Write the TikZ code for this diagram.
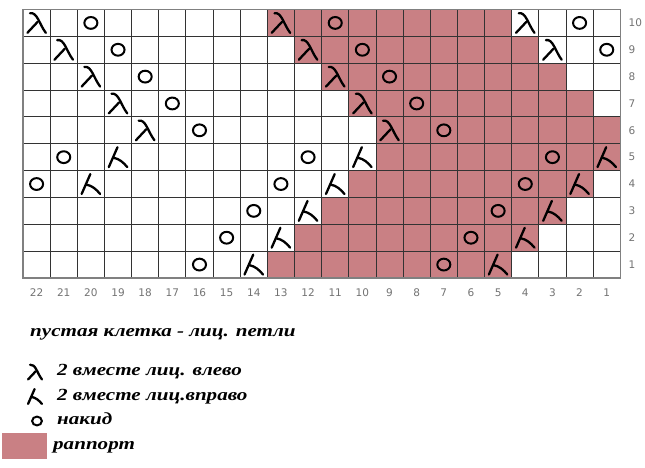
\documentclass[tikz,border=0pt]{standalone}
\usepackage{fontspec}
\setmainfont{Liberation Serif}
\newfontfamily\numfont{DejaVu Sans}
\newfontfamily\legendfont[FakeStretch=1.24]{Liberation Serif}
\definecolor{rapport}{RGB}{201,128,132}
\tikzset{
  cellline/.style={black!80, line width=0.9pt},
  stitch/.style={line width=2.3pt, line cap=round, line join=round},
  numlabel/.style={font=\numfont\fontsize{10.5}{11}\selectfont, text=black!55, inner sep=0pt},
  legendtext/.style={anchor=base west, inner sep=0pt, font=\legendfont\bfseries\itshape\fontsize{17}{17}\selectfont},
  pics/kleft/.style={code={
    \draw[stitch] (-0.24,-0.36) .. controls (0.02,-0.42) and (0.1,0.05) .. (0.34,0.37);
    \draw[stitch] (0.04,-0.04) -- (-0.34,0.37);
  }},
  pics/kright/.style={code={
    \draw[stitch] (-0.02,-0.37) -- (-0.34,0.37);
    \draw[stitch] (-0.17,0.02) .. controls (0.05,0.06) and (0.2,0.2) .. (0.34,0.37);
  }},
  pics/yo/.style={code={
    \draw[line width=2pt] (0,0) ellipse [x radius=0.24, y radius=0.22];
  }}
}
\begin{document}
\begin{tikzpicture}[x=1pt, y=-1pt]
\useasboundingbox[fill=white] (0,0) rectangle (645,468);
\begin{scope}[shift={(23,9.5)}, x=27.15pt, y=-26.85pt]
\foreach \r in {6,...,10}
  \fill[rapport] ({19-\r},{10-\r}) rectangle ({28-\r},{11-\r});
\foreach \r in {1,...,5}
  \fill[rapport] ({8+\r},{10-\r}) rectangle ({17+\r},{11-\r});
\foreach \i in {1,...,21}
  \draw[cellline] (\i,0) -- (\i,10);
\foreach \j in {1,...,9}
  \draw[cellline] (0,\j) -- (22,\j);
\draw[gray, line width=1.2pt] (0,0) rectangle (22,10);
\foreach \r in {6,...,10} {
  \pic at ({10.5-\r},{10.5-\r}) {kleft};
  \pic at ({19.5-\r},{10.5-\r}) {kleft};
  \pic at ({12.5-\r},{10.5-\r}) {yo};
  \pic at ({21.5-\r},{10.5-\r}) {yo};
}
\pic at (18.5,0.5) {kleft};
\pic at (20.5,0.5) {yo};
\pic at (19.5,1.5) {kleft};
\pic at (21.5,1.5) {yo};
\foreach \r in {4,5} {
  \pic at ({\r-3.5},{10.5-\r}) {yo};
  \pic at ({\r-1.5},{10.5-\r}) {kright};
}
\foreach \r in {1,...,5} {
  \pic at ({5.5+\r},{10.5-\r}) {yo};
  \pic at ({7.5+\r},{10.5-\r}) {kright};
  \pic at ({14.5+\r},{10.5-\r}) {yo};
  \pic at ({16.5+\r},{10.5-\r}) {kright};
}
\foreach \c in {1,...,22}
  \node[numlabel] (col\c) at ({22.5-\c},10.55) {\c};
\foreach \r in {1,...,10}
  \node[numlabel, anchor=west] (row\r) at (22.3,{10.5-\r}) {\r};
\end{scope}
\node[legendtext] (legend-knit) at (30,336) {пустая клетка - лиц. петли};
\begin{scope}[shift={(35,372)}, x=20.4pt, y=-20.1pt]
  \pic {kleft};
\end{scope}
\node[legendtext] (legend-left) at (57,375) {2 вместе лиц. влево};
\begin{scope}[shift={(35,396.5)}, x=20.4pt, y=-20.1pt]
  \pic {kright};
\end{scope}
\node[legendtext] (legend-right) at (57,400) {2 вместе лиц.вправо};
\begin{scope}[shift={(37,421)}, x=20.4pt, y=-20.1pt]
  \pic {yo};
\end{scope}
\node[legendtext] (legend-yo) at (57,424) {накид};
\fill[rapport] (2,433) rectangle (47,459);
\node[legendtext] (legend-rapport) at (53,449) {раппорт};
\end{tikzpicture}
\end{document}
